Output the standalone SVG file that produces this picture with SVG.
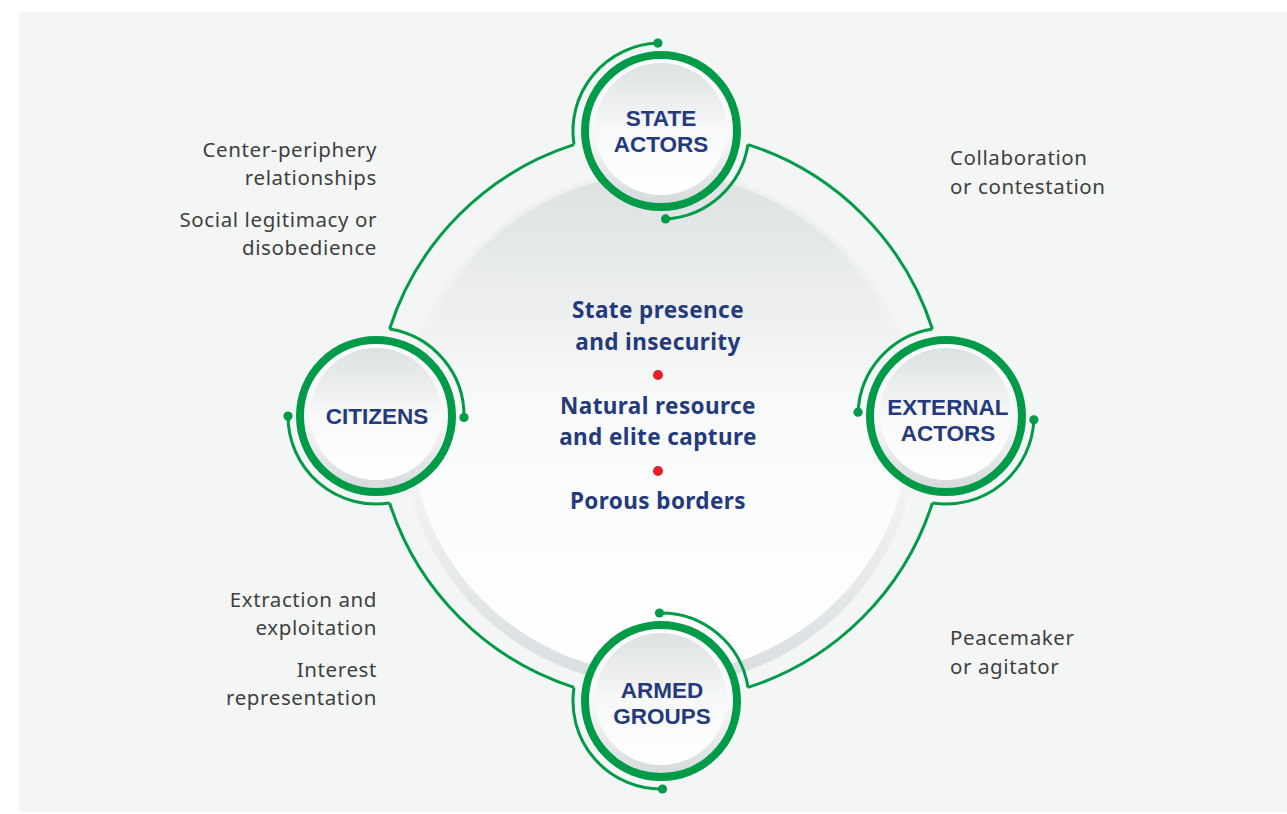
<svg xmlns="http://www.w3.org/2000/svg" width="1287" height="814" viewBox="0 0 1287 814">
<defs>
<linearGradient id="rimG" x1="0" y1="0" x2="0" y2="1">
<stop offset="0" stop-color="#ffffff"/>
<stop offset="0.55" stop-color="#f6f7f7"/>
<stop offset="1" stop-color="#d6dadb"/>
</linearGradient>
<linearGradient id="faceG" x1="0" y1="0" x2="0" y2="1">
<stop offset="0" stop-color="#dde1e2"/>
<stop offset="0.5" stop-color="#f7f8f8"/>
<stop offset="1" stop-color="#ffffff"/>
</linearGradient>
<linearGradient id="bigRim" x1="0" y1="0" x2="0" y2="1">
<stop offset="0" stop-color="#eef0f0"/>
<stop offset="0.6" stop-color="#f3f4f4"/>
<stop offset="1" stop-color="#d9dddf"/>
</linearGradient>
<linearGradient id="bigFace" x1="0" y1="0" x2="0" y2="1">
<stop offset="0" stop-color="#dde1e2"/>
<stop offset="0.45" stop-color="#f8f9f9"/>
<stop offset="1" stop-color="#ffffff"/>
</linearGradient>
</defs>
<style>
.bg{fill:#f4f6f6}
.line{fill:none;stroke:#009b48;stroke-width:3}
.dot{fill:#009b48}
.ring{fill:none;stroke:#009b48;stroke-width:8}
.rim{fill:url(#rimG)}
.face{fill:url(#faceG)}
.lbl{font-family:"Liberation Sans",Arial,sans-serif;font-weight:700;font-size:22.5px;fill:#253a7d;text-anchor:middle}
.ctr{font-family:"Noto Sans","Open Sans","DejaVu Sans",sans-serif;font-weight:700;font-size:22.5px;letter-spacing:0.4px;fill:#253a7d;text-anchor:middle}
.side{font-family:"Noto Sans","Open Sans","DejaVu Sans",sans-serif;font-weight:400;font-size:20.5px;letter-spacing:0.6px;fill:#3f3f3f}
.r{text-anchor:end}
.red{fill:#e31e2d}
</style>
<rect class="bg" x="19" y="12" width="1268" height="800"/>

<g id="center">
<circle cx="660" cy="428" r="258" fill="url(#bigRim)"/>
<circle cx="660" cy="424" r="250" fill="url(#bigFace)"/>
<text class="ctr" x="658" y="318">State presence</text>
<text class="ctr" x="658" y="350">and insecurity</text>
<circle class="red" cx="658" cy="375" r="5"/>
<text class="ctr" x="658" y="414">Natural resource</text>
<text class="ctr" x="658" y="445">and elite capture</text>
<circle class="red" cx="658" cy="471" r="5"/>
<text class="ctr" x="658" y="509">Porous borders</text>
</g>

<g id="connectors">
<path class="line" d="M748,144.6 A285,285 0 0 1 932.4,329"/>
<path class="line" d="M932.4,503 A285,285 0 0 1 748,687.4"/>
<path class="line" d="M574,687.4 A285,285 0 0 1 389.6,503"/>
<path class="line" d="M389.6,329 A285,285 0 0 1 574,144.6"/>
<path class="line" d="M574,144.6 A88,88 0 0 1 657.9,43.1"/>
<path class="line" d="M748,144.6 A88,88 0 0 1 665.6,218.9"/>
<path class="line" d="M932.4,329 A88,88 0 0 0 858.1,412.2"/>
<path class="line" d="M1033.9,419.8 A88,88 0 0 1 932.4,503"/>
<path class="line" d="M659.5,613 A88,88 0 0 1 748,687.4"/>
<path class="line" d="M574,687.4 A88,88 0 0 0 662.5,789"/>
<path class="line" d="M389.6,329 A88,88 0 0 1 464,417.5"/>
<path class="line" d="M288,416 A88,88 0 0 0 389.6,503"/>
<circle class="dot" cx="657.9" cy="43.1" r="4.6"/>
<circle class="dot" cx="665.6" cy="218.9" r="4.6"/>
<circle class="dot" cx="858.1" cy="412.2" r="4.6"/>
<circle class="dot" cx="1033.9" cy="419.8" r="4.6"/>
<circle class="dot" cx="659.5" cy="613" r="4.6"/>
<circle class="dot" cx="662.5" cy="789" r="4.6"/>
<circle class="dot" cx="464" cy="417.5" r="4.6"/>
<circle class="dot" cx="288" cy="416" r="4.6"/>
</g>

<g id="state-actors">
<circle class="rim" cx="661" cy="131" r="73"/>
<circle class="face" cx="661" cy="129" r="66"/>
<circle class="ring" cx="661" cy="131" r="76"/>
<text class="lbl" x="661" y="125.5">STATE</text>
<text class="lbl" x="661" y="151.5">ACTORS</text>
</g>

<g id="external-actors">
<circle class="rim" cx="946" cy="416" r="73"/>
<circle class="face" cx="946" cy="414" r="66"/>
<circle class="ring" cx="946" cy="416" r="76"/>
<text class="lbl" x="948" y="414.5">EXTERNAL</text>
<text class="lbl" x="948" y="440.5">ACTORS</text>
</g>

<g id="armed-groups">
<circle class="rim" cx="661" cy="701" r="73"/>
<circle class="face" cx="661" cy="699" r="66"/>
<circle class="ring" cx="661" cy="701" r="76"/>
<text class="lbl" x="662" y="697.5">ARMED</text>
<text class="lbl" x="662" y="723.5">GROUPS</text>
</g>

<g id="citizens">
<circle class="rim" cx="376" cy="416" r="73"/>
<circle class="face" cx="376" cy="414" r="66"/>
<circle class="ring" cx="376" cy="416" r="76"/>
<text class="lbl" x="377" y="423.5">CITIZENS</text>
</g>

<g id="side-labels">
<text class="side r" x="377" y="156.5">Center-periphery</text>
<text class="side r" x="377" y="184.5">relationships</text>
<text class="side r" x="377" y="226.5">Social legitimacy or</text>
<text class="side r" x="377" y="255">disobedience</text>
<text class="side r" x="377" y="606.5">Extraction and</text>
<text class="side r" x="377" y="635">exploitation</text>
<text class="side r" x="377" y="676.5">Interest</text>
<text class="side r" x="377" y="705">representation</text>
<text class="side" x="950" y="164.5">Collaboration</text>
<text class="side" x="950" y="193.5">or contestation</text>
<text class="side" x="950" y="644.5">Peacemaker</text>
<text class="side" x="950" y="673.5">or agitator</text>
</g>
</svg>
